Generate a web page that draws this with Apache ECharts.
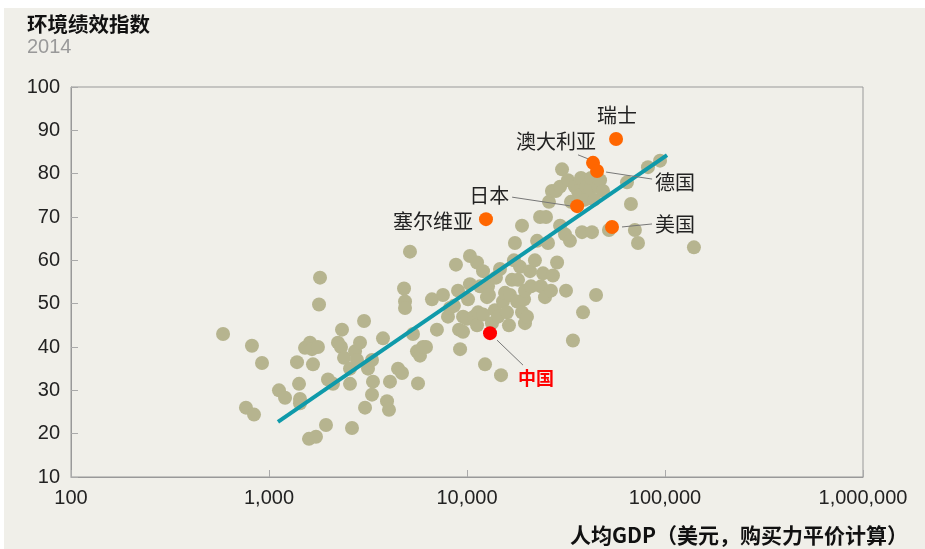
<!DOCTYPE html>
<html><head><meta charset="utf-8">
<script src="https://cdn.jsdelivr.net/npm/echarts@6/dist/echarts.min.js"></script>
<style>html,body{margin:0;padding:0;background:#fff}#c{width:925px;height:549px}</style>
</head><body><div id="c"></div><script>
// Per-capita GDP (USD, PPP) and EPI 2014 for the unlabelled countries
const gdp = [586,820,922,765,840,1123,1205,1385,1418,1434,1434,1520,1611,1668,1649,1767,1810,1789,1592,1727,1940,1986,2105,2230,2310,2393,2337,2565,2565,2625,2720,2783,2882,3020,3162,3055,3313,3313,3351,3764,3945,4036,4083,4484,4697,4808,4864,4864,5152,5337,5589,5657,5788,5994,6208,6653,7048,7562,8014,8204,8590,8795,9009,9117,9226,9550,9550,10000,10120,10350,10350,10840,11240,11240,11370,11640,12050,12050,12330,12620,12770,12910,13370,13840,14000,14350,14680,14850,15200,15560,15920,16290,16490,16870,17260,17460,17910,18110,18530,18960,19410,19630,18960,19630,20090,20800,21040,22030,22590,23390,23660,24210,24770,25060,25940,25650,26850,27170,26550,28120,28510,29510,29510,30200,31260,31620,32360,33110,33500,35080,34280,36360,37220,37650,38100,38550,39450,39910,41790,42290,42780,43780,44850,45920,46990,48640,52120,64270,67300,70470,73060,82040,94400,140000];
const epi = [43,40.3,36.3,26,24.4,30,28.3,36.5,31.5,28,27,39.8,41,36,39.5,40,56,49.8,18.8,19.3,22,32.5,31.5,41,40,37.5,44,35,31.5,21.3,39,37,41,46,35,26,29,37,32,42,27.5,25.5,32,35,34,53.5,50.5,49,62,43,39,31.6,38,40,40,51,44,52,47,49,49.5,59,53,44,39.5,47,43.5,46.5,51,54.5,61,47,59.5,45,48,54,57.5,47.5,36,51.5,54,52,45.5,48.5,56,47,58,33.5,50.5,52.5,48,45,52,55.5,60,64,50.5,55.5,58.5,48,51,53,68,45.5,47,57.5,54,60,64.5,70,54,57,51.5,70,73.5,64,76,56.5,53,76,59.5,77,68,81,66,53,78.5,64.5,73.5,77,41.5,76,75,79,66.5,48,74,77,76.5,79,66.5,74,52,77,78.5,76,67,78,73,67,64,81.5,83,63];

// Highlighted countries
const hlNames = ['瑞士','澳大利亚','德国','日本','塞尔维亚','美国','中国'];
const hlGdp = [56600, 43300, 45400, 36000, 12470, 54000, 13070];
const hlEpi = [88, 82.5, 80.6, 72.5, 69.5, 67.7, 43.2];

// Trend line end points
const trendGdp = [1110, 102400];
const trendEpi = [22.7, 84.3];

// Axis ticks
const xTicks = [100, 1000, 10000, 100000, 1000000];
const yTicks = [10, 20, 30, 40, 50, 60, 70, 80, 90, 100];

// label placement (pixel offsets from the point) - styling only
const labelLayout = [
  {dx: 1, dy: -24, line: null},
  {dx: -37, dy: -21, line: [-15, -8, -5, -4]},
  {dx: 78, dy: 11, line: [9, 1, 55, 8]},
  {dx: -88, dy: -11, line: [-65, -9, -5, 0]},
  {dx: -53, dy: 2, line: null},
  {dx: 63, dy: -3, line: [10, 0, 40, -3]},
  {dx: 46, dy: 45, line: [7, 7, 33, 32]}
];

const chart = echarts.init(document.getElementById('c'), null, {renderer: 'canvas'});
const baseFont = 'Liberation Sans, Arial, sans-serif';
const cjk = '"Noto Sans CJK SC", sans-serif';

chart.setOption({
  backgroundColor: 'transparent',
  animation: false,
  graphic: [
    {type: 'rect', left: 4, top: 8, z: -10, shape: {width: 921, height: 541}, style: {fill: '#f0efe9'}, silent: true},
    {type: 'text', left: 27, top: 14, style: {text: '环境绩效指数', font: 'bold 20.5px ' + cjk, fill: '#111'}},
    {type: 'text', left: 27, top: 37, style: {text: '2014', font: '20px ' + baseFont, fill: '#999'}},
    {type: 'text', right: 17, top: 525, style: {text: '人均GDP（美元，购买力平价计算）', font: 'bold 21px ' + cjk, fill: '#111'}}
  ],
  grid: {left: 71, right: 62, top: 87, bottom: 72, show: true, borderColor: '#999', borderWidth: 1, backgroundColor: 'transparent'},
  xAxis: {
    type: 'log', logBase: 10, min: xTicks[0], max: xTicks[xTicks.length - 1],
    axisLine: {lineStyle: {color: '#999', width: 1}},
    axisTick: {inside: true, length: 7, lineStyle: {color: '#aaa'}},
    minorTick: {show: false},
    splitLine: {show: false},
    axisLabel: {margin: 11, fontSize: 20, fontFamily: baseFont, color: '#222',
      formatter: v => Number(v).toLocaleString('en-US')}
  },
  yAxis: {
    type: 'value', min: yTicks[0], max: yTicks[yTicks.length - 1], interval: 10,
    axisLine: {show: true, lineStyle: {color: '#999', width: 1}},
    axisTick: {show: true, inside: true, length: 7, lineStyle: {color: '#aaa'}},
    splitLine: {show: false},
    axisLabel: {margin: 11, fontSize: 20, fontFamily: baseFont, color: '#222'}
  },
  series: [
    {type: 'scatter', z: 2, symbolSize: 14, itemStyle: {color: '#b6b48f', opacity: 1},
      data: gdp.map((g, i) => [g, epi[i]])},
    {type: 'line', z: 3, symbol: 'none', lineStyle: {color: '#0f9aaa', width: 4},
      data: trendGdp.map((g, i) => [g, trendEpi[i]])},
    {type: 'custom', z: 4,
      data: hlGdp.map((g, i) => [g, hlEpi[i]]),
      renderItem: (params, api) => {
        const i = params.dataIndex;
        const p = api.coord([api.value(0), api.value(1)]);
        const L = labelLayout[i];
        const isCN = hlNames[i] === '中国';
        const ch = [];
        if (L.line) ch.push({type: 'line', shape: {x1: p[0] + L.line[0], y1: p[1] + L.line[1], x2: p[0] + L.line[2], y2: p[1] + L.line[3]}, style: {stroke: '#777', lineWidth: 1}});
        ch.push({type: 'circle', shape: {cx: p[0], cy: p[1], r: 7}, style: {fill: isCN ? '#ff0000' : '#ff6600'}});
        ch.push({type: 'text', x: p[0] + L.dx, y: p[1] + L.dy, style: {text: hlNames[i], align: 'center', verticalAlign: 'middle',
          font: (isCN ? 'bold 18px ' : '20px ') + cjk, fill: isCN ? '#ff0000' : '#222'}});
        return {type: 'group', children: ch};
      }}
  ]
});
</script></body></html>
